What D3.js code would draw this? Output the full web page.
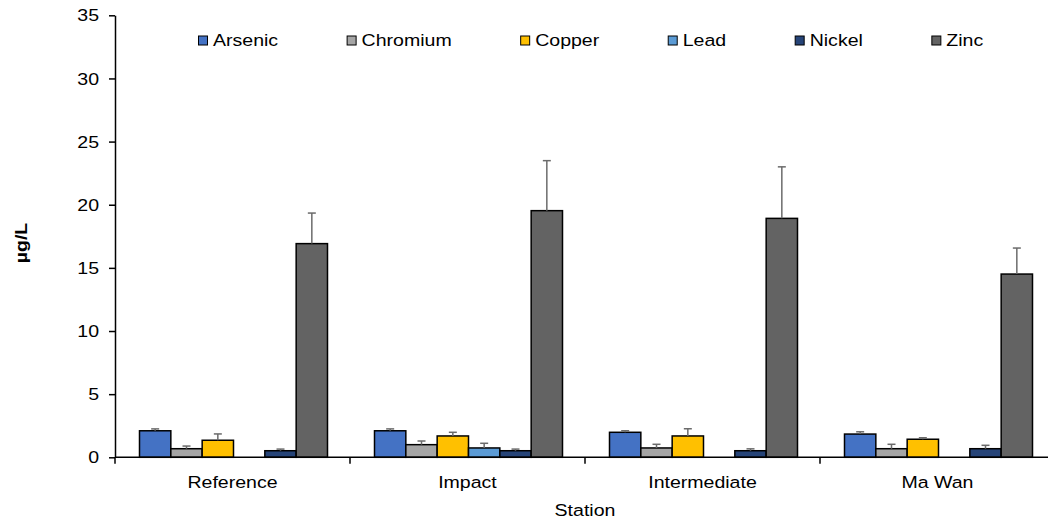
<!DOCTYPE html>
<html>
<head>
<meta charset="utf-8">
<script src="https://cdn.jsdelivr.net/npm/d3@7"></script>
<style>
    body { margin: 0; background: #fff; }
    svg text { font-family: "Liberation Sans", Arial, sans-serif; fill: #000; }
</style>
</head>
<body>
<div id="vis"></div>
<script>
// data
var stations = ["Reference", "Impact", "Intermediate", "Ma Wan"];
var metals = ["Arsenic", "Chromium", "Copper", "Lead", "Nickel", "Zinc"];
var metalColors = ["#4472C4", "#A5A5A5", "#FFC000", "#5B9BD5", "#264478", "#636363"];

var arsenic = [2.10, 2.10, 1.98, 1.84];
var chromium = [0.68, 1.00, 0.74, 0.68];
var copper = [1.35, 1.69, 1.69, 1.43];
var lead = [0, 0.74, 0, 0];
var nickel = [0.52, 0.52, 0.52, 0.68];
var zinc = [16.92, 19.53, 18.92, 14.51];

var arsenicErr = [0.15, 0.15, 0.12, 0.18];
var chromiumErr = [0.21, 0.29, 0.29, 0.35];
var copperErr = [0.50, 0.29, 0.57, 0.12];
var leadErr = [0, 0.37, 0, 0];
var nickelErr = [0.13, 0.13, 0.15, 0.27];
var zincErr = [2.42, 3.96, 4.08, 2.06];

var yTicks = [0, 5, 10, 15, 20, 25, 30, 35];

var values = [arsenic, chromium, copper, lead, nickel, zinc];
var errors = [arsenicErr, chromiumErr, copperErr, leadErr, nickelErr, zincErr];

// layout
var width = 1048, height = 523;
var plot = { left: 115, right: 1055, top: 15.3, bottom: 457.3 };
var fontSize = 17;
var stretch = 1.15; // the reference font is a little wider than Arial

function widen(sel, origin)
{
    sel.style("transform-box", "fill-box")
        .style("transform-origin", origin + " center")
        .style("transform", "scaleX(" + stretch + ")");
}

var svg = d3.select("#vis")
    .append("svg")
        .attr("width", width)
        .attr("height", height);

var y = d3.scaleLinear()
    .domain([0, 35])
    .range([plot.bottom, plot.top]);

var x0 = d3.scaleBand()
    .domain(stations)
    .range([plot.left, plot.right])
    .padding(0);

var bw = x0.bandwidth();
var x1 = d3.scaleBand()
    .domain(metals)
    .range([24.5, bw - 22.5])
    .padding(0);

var color = d3.scaleOrdinal().domain(metals).range(metalColors);

// flatten bars
var bars = [];
metals.forEach(function(m, j)
{
    stations.forEach(function(s, i)
    {
        bars.push({ station: s, metal: m, value: values[j][i], err: errors[j][i] });
    });
});

var g = svg.append("g");

g.selectAll(".bar")
    .data(bars.filter(function(d) { return d.value > 0; }))
    .enter()
    .append("rect")
        .attr("class", "bar")
        .attr("x", function(d) { return x0(d.station) + x1(d.metal); })
        .attr("y", function(d) { return y(d.value); })
        .attr("width", x1.bandwidth())
        .attr("height", function(d) { return y(0) - y(d.value); })
        .attr("fill", function(d) { return color(d.metal); })
        .attr("stroke", "#000")
        .attr("stroke-width", 1.5);

// error bars (plus only)
var eb = g.selectAll(".err")
    .data(bars.filter(function(d) { return d.value > 0 && d.err > 0; }))
    .enter()
    .append("g")
        .attr("class", "err")
        .attr("stroke", "#6b6b6b")
        .attr("stroke-width", 1.5);

function cx(d) { return x0(d.station) + x1(d.metal) + x1.bandwidth() / 2; }

eb.append("line")
    .attr("x1", cx)
    .attr("x2", cx)
    .attr("y1", function(d) { return y(d.value); })
    .attr("y2", function(d) { return y(d.value + d.err); });

eb.append("line")
    .attr("x1", function(d) { return cx(d) - 4; })
    .attr("x2", function(d) { return cx(d) + 4; })
    .attr("y1", function(d) { return y(d.value + d.err); })
    .attr("y2", function(d) { return y(d.value + d.err); });

// y axis
var yAxis = svg.append("g")
    .attr("transform", "translate(" + plot.left + ",0)")
    .call(d3.axisLeft(y).tickValues(yTicks).tickSize(6).tickSizeOuter(0).tickPadding(10));

yAxis.select(".domain").attr("stroke", "#000").attr("stroke-width", 1.5);
yAxis.selectAll(".tick line").attr("stroke", "#000").attr("stroke-width", 1.5);
yAxis.selectAll(".tick text")
    .attr("font-size", fontSize)
    .attr("dy", "0.33em")
    .style("font-family", "'Liberation Sans', Arial, sans-serif")
    .call(widen, "right");

// x axis baseline and category boundary ticks
svg.append("line")
    .attr("x1", plot.left)
    .attr("x2", plot.right)
    .attr("y1", y(0))
    .attr("y2", y(0))
    .attr("stroke", "#000")
    .attr("stroke-width", 1.5);

var bounds = stations.map(function(s) { return x0(s); }).concat([x0.range()[1]]);
svg.selectAll(".xtick")
    .data(bounds)
    .enter()
    .append("line")
        .attr("class", "xtick")
        .attr("x1", function(d) { return d; })
        .attr("x2", function(d) { return d; })
        .attr("y1", y(0))
        .attr("y2", y(0) + 6.5)
        .attr("stroke", "#000")
        .attr("stroke-width", 1.5);

svg.selectAll(".xlabel")
    .data(stations)
    .enter()
    .append("text")
        .attr("class", "xlabel")
        .attr("x", function(d) { return x0(d) + bw / 2; })
        .attr("y", y(0) + 30.5)
        .attr("text-anchor", "middle")
        .attr("font-size", fontSize)
        .text(function(d) { return d; })
        .call(widen, "center");

// axis titles
svg.append("text")
    .attr("x", (plot.left + plot.right) / 2)
    .attr("y", 516.5)
    .attr("text-anchor", "middle")
    .attr("font-size", fontSize)
    .text("Station")
    .call(widen, "center");

svg.append("g")
    .attr("transform", "translate(27,243) rotate(-90)")
    .append("text")
        .attr("text-anchor", "middle")
        .attr("font-size", fontSize)
        .attr("font-weight", "bold")
        .text("µg/L")
        .call(widen, "center");

// legend
var legend = svg.append("g");
var lx = 198.5;
metals.forEach(function(m)
{
    legend.append("rect")
        .attr("x", lx)
        .attr("y", 36)
        .attr("width", 9)
        .attr("height", 9)
        .attr("fill", color(m))
        .attr("stroke", "#000")
        .attr("stroke-width", 1);

    var t = legend.append("text")
        .attr("x", lx + 14.5)
        .attr("y", 46.5)
        .attr("font-size", fontSize)
        .text(m)
        .call(widen, "left");

    lx += 14.5 + t.node().getComputedTextLength() * stretch + 69;
});
</script>
</body>
</html>
